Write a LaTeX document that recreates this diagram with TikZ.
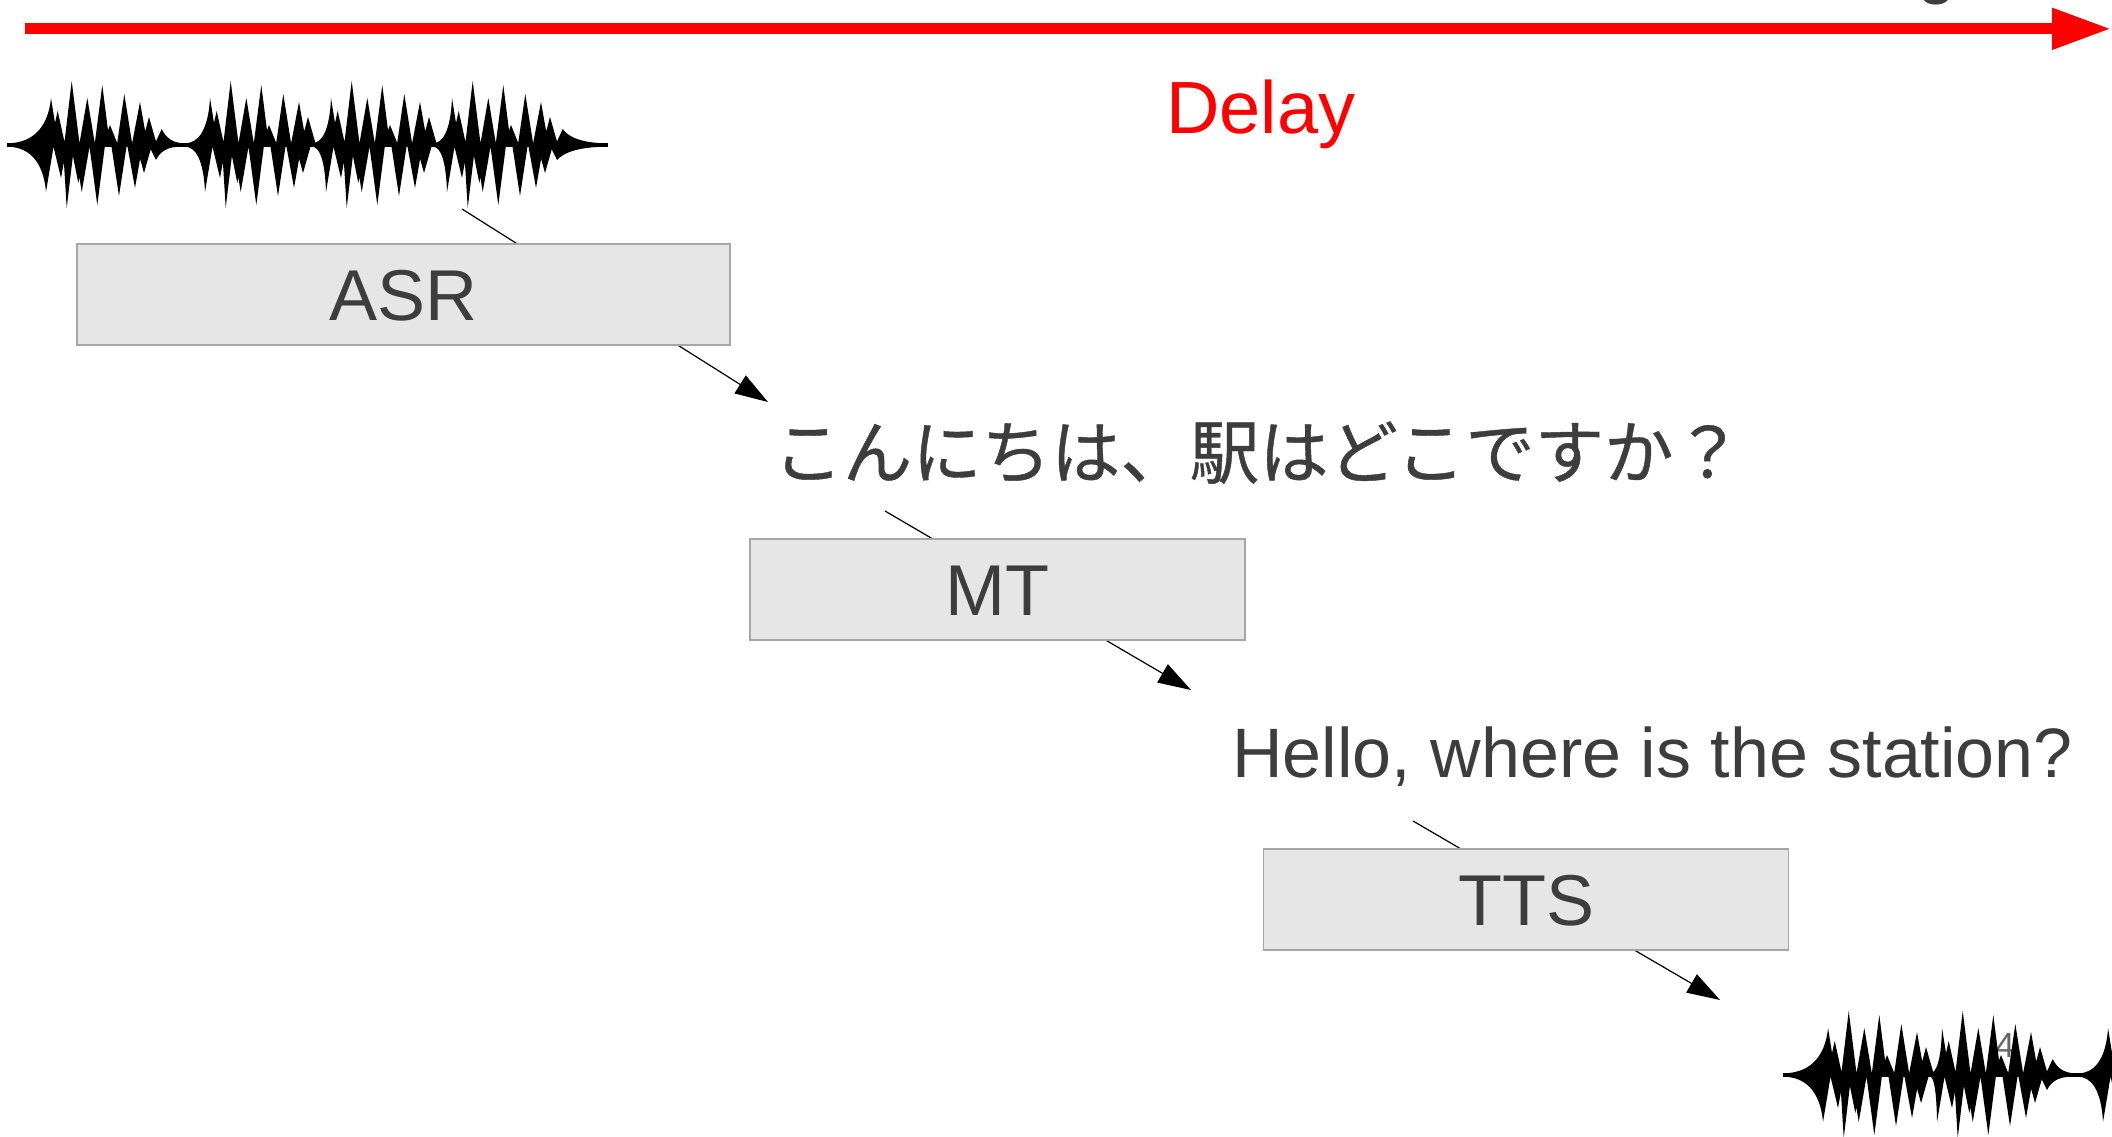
\documentclass[tikz,border=0pt]{standalone}
\usepackage{fontspec}
\setmainfont{Liberation Sans}
\newfontfamily\cjk[FakeBold=0.6]{Noto Sans CJK JP}
\usetikzlibrary{arrows.meta}
\definecolor{txt}{HTML}{3D3D3D}
\definecolor{boxfill}{HTML}{E6E6E6}
\definecolor{boxline}{HTML}{A6A6A6}
\definecolor{pnumc}{HTML}{666666}
% one burst of the waveform: #1 x of first spike, #2 centre y, #3 lead-in length, #4 ending (0 none, 1 cusp, 2 tail)
\newcommand\wseg[4]{%
 \begin{scope}[shift={(#1,#2)}]
  \fill (-#3,-1.7) .. controls ({-0.47*#3},-1.7) and ({-0.07*#3},-15) .. (0,-47)
   -- (4,-22) -- (6.7,-34) -- (13.5,-3) -- (20.7,-64) -- (28.5,-1.7)
   -- (36.3,-47) -- (43.8,-1.7) -- (51.3,-60) -- (57,-14.6)
   -- (59,-20) -- (66.2,-2) -- (73.3,-51) -- (81.1,-1.7)
   -- (89,-43) -- (94.2,-13.5) -- (98,-28) -- (105.5,-1.7) -- cycle;
  \fill (-#3,1.7) .. controls ({-#3+0.53*(#3-5)},1.7) and ({-5-0.07*(#3-5)},15) .. (-5,47)
   -- (2.5,1.7) -- (10,33) -- (12.9,17) -- (15.7,63) -- (21.9,10.9) -- (27.3,38)
   -- (28.4,32.4) -- (30.7,47) -- (38.5,1.7) -- (46.3,60) -- (53.8,1.7)
   -- (60.5,1.7) -- (68,51) -- (75.5,1.7) -- (76.5,1.7) -- (84,43) -- (89.1,13.8) -- (93,28)
   -- (100.5,1.7) -- cycle;
  \ifcase#4\relax
  \or
   \fill (104.7,-1.7) -- (104.7,-3) -- (110.7,-16) .. controls (115,-7) and (122,-1.7) .. (134,-1.7) -- cycle;
   \fill (99.5,1.7) -- (99.5,3.8) -- (105,15) .. controls (109,7) and (116,1.7) .. (129,1.7) -- cycle;
  \or
   \fill (104.7,-1.7) -- (104.7,-3) -- (110.7,-16) .. controls (116,-8) and (130,-1.7) .. (156,-1.7) -- cycle;
   \fill (99.5,1.7) -- (99.5,3.8) -- (105,15) .. controls (112,7) and (128,1.7) .. (156,1.7) -- cycle;
  \fi
 \end{scope}}
\begin{document}
\begin{tikzpicture}[x=0.5pt,y=-0.5pt,
  stagebox/.style={draw=boxline, fill=boxfill, line width=0.75pt, inner sep=0pt,
    text=txt, font=\fontsize{36pt}{40pt}\selectfont, text height=25.8pt, text depth=0pt},
  conn/.style={line width=0.6pt, -{Triangle[length=16.5pt,width=10.5pt]}},
  lbl/.style={text=txt, inner sep=0pt, anchor=base west}]
\useasboundingbox (0,0) rectangle (2112,1136);
\clip (0,0) rectangle (2112,1136);
\fill[white] (0,0) rectangle (2112,1136);

% time axis
\coordinate (t0) at (25,28.8);
\coordinate (t1) at (2111,28.8);
\draw[red, line width=5.5pt, -{Triangle[length=29.5pt,width=19.5pt]}] (t0) -- (t1);
\node[lbl, font=\fontsize{35pt}{40pt}\selectfont] (gpart) at (1917,-10) {g};
\node[lbl, text=red, font=\fontsize{37pt}{44pt}\selectfont] (delay) at (1166,133) {Delay};

% input waveform
\fill (7,143.3) rectangle (608,146.7);
\wseg{51}{145}{44}{1}
\wseg{210}{145}{25}{0}
\wseg{331}{145}{19}{0}
\wseg{452}{145}{19}{2}

% page number and output waveform
\node[lbl, text=pnumc, font=\fontsize{17.5pt}{20pt}\selectfont] (pnum) at (1995,1057) {4};
\fill (1783,1073.3) rectangle (2112,1076.7);
\wseg{1828}{1075}{45}{0}
\wseg{1942}{1075}{12}{1}
\wseg{2108}{1075}{30}{0}

% connectors (behind the boxes)
\coordinate (w1) at (462,209);
\coordinate (j1) at (768,402);
\coordinate (j2) at (885,511);
\coordinate (e1) at (1191,690);
\coordinate (e2) at (1413,821);
\coordinate (w2) at (1720,1000);
\draw[conn] (w1) -- (j1);
\draw[conn] (j2) -- (e1);
\draw[conn] (e2) -- (w2);

% stages
\node[stagebox, minimum width=326.5pt, minimum height=50.5pt] (asr) at (403.5,294.5) {ASR};
\node[stagebox, minimum width=247.5pt, minimum height=50.5pt] (mt) at (997.5,589.5) {MT};
\node[stagebox, minimum width=262.5pt, minimum height=50.5pt] (tts) at (1526,899.5) {TTS};

% texts
\node[lbl, font=\cjk\fontsize{34.7pt}{40pt}\selectfont] (ja) at (773,478) {こんにちは、駅はどこですか？};
\node[lbl, font=\fontsize{35pt}{40pt}\selectfont] (en) at (1232,777) {Hello, where is the station?};
\end{tikzpicture}
\end{document}
